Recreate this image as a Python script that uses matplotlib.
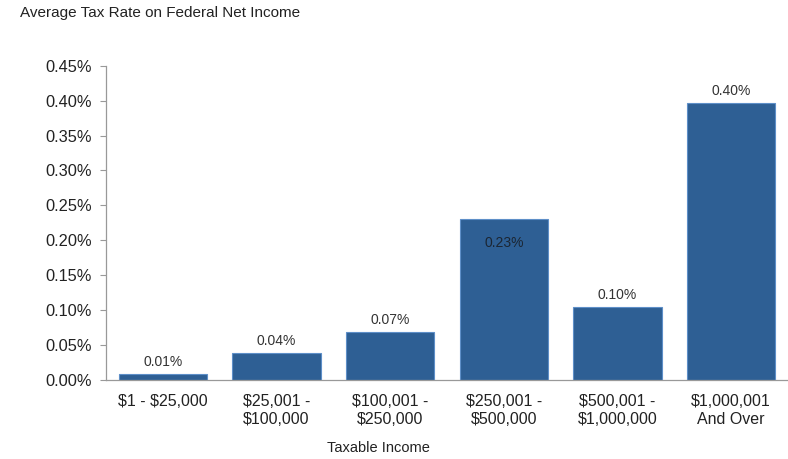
import matplotlib
matplotlib.use("Agg")
import matplotlib.pyplot as plt
from matplotlib.ticker import FuncFormatter

plt.rcParams['font.family'] = ['Liberation Sans', 'DejaVu Sans']
plt.rcParams['text.parse_math'] = False

# data
categories = ["$1 - $25,000", "$25,001 -\n$100,000", "$100,001 -\n$250,000",
              "$250,001 -\n$500,000", "$500,001 -\n$1,000,000", "$1,000,001\nAnd Over"]
rates = [0.0086, 0.0383, 0.0692, 0.2307, 0.104, 0.397]  # percent
rate_labels = ["0.01%", "0.04%", "0.07%", "0.23%", "0.10%", "0.40%"]

fig = plt.figure(figsize=(7.88, 4.59), dpi=100)
ax = fig.add_axes([0.1345, 0.1721, 0.8655, 0.6848])

x = range(len(categories))
bars = ax.bar(x, rates, width=0.775, color='#2E5F94', edgecolor='#5E8FC8', linewidth=0.8)

for i, b in enumerate(bars):
    h = b.get_height()
    cx = b.get_x() + b.get_width() / 2
    if i == 3:
        # this one sits inside the bar
        ax.text(cx, h - 0.034, rate_labels[i], ha='center', va='center',
                fontsize=10, color='#1b2633')
    else:
        ax.text(cx, h + 0.007, rate_labels[i], ha='center', va='bottom',
                fontsize=10, color='#333333')

ax.set_xlim(-0.5, len(categories) - 0.5)
ax.set_ylim(0, 0.45)
ax.set_yticks([i * 0.05 for i in range(10)])
ax.yaxis.set_major_formatter(FuncFormatter(lambda v, p: "%.2f%%" % v))
ax.set_xticks(list(x))
ax.set_xticklabels(categories, fontsize=11.5, color='#222222', linespacing=1.25)
ax.tick_params(axis='y', labelsize=11.8, colors='#999999', labelcolor='#222222',
               length=4, width=0.8, direction='out', pad=6)
ax.tick_params(axis='x', length=0, pad=10)

for s in ['top', 'right']:
    ax.spines[s].set_visible(False)
for s in ['left', 'bottom']:
    ax.spines[s].set_color('#999999')
    ax.spines[s].set_linewidth(0.9)

ax.set_xlabel("Taxable Income", fontsize=10.5, color='#222222')
ax.xaxis.set_label_coords((378 - 106) / 682.0, -0.195)

fig.text(20 / 788.0, 1 - 13 / 459.0, "Average Tax Rate on Federal Net Income",
         fontsize=11, color='#222222', ha='left', va='center')

fig.savefig("out.png", dpi=100)
